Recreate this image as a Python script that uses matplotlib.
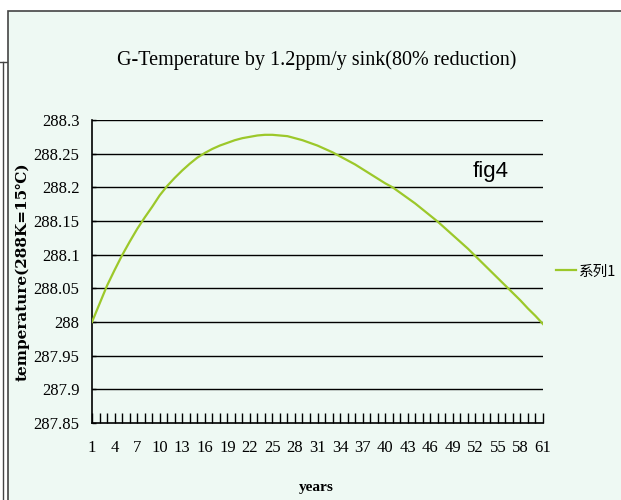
import matplotlib
matplotlib.use("Agg")
import matplotlib.pyplot as plt
from matplotlib.patches import Rectangle
from matplotlib.lines import Line2D

years = list(range(1, 62))
temperature = [
    288.000, 288.027, 288.054, 288.077, 288.099, 288.119, 288.138, 288.155,
    288.171, 288.188, 288.202, 288.214, 288.225, 288.235, 288.244, 288.251,
    288.257, 288.262, 288.266, 288.270, 288.273, 288.275, 288.277, 288.278,
    288.278, 288.277, 288.276, 288.273, 288.270, 288.266, 288.262, 288.257,
    288.252, 288.246, 288.240, 288.234, 288.227, 288.220, 288.213, 288.206,
    288.200, 288.192, 288.184, 288.176, 288.167, 288.158, 288.149, 288.139,
    288.129, 288.119, 288.109, 288.098, 288.087, 288.076, 288.065, 288.054,
    288.043, 288.032, 288.020, 288.009, 287.997,
]
y_ticks = [287.85, 287.9, 287.95, 288, 288.05, 288.1, 288.15, 288.2, 288.25, 288.3]
x_labels = list(range(1, 62, 3))

bg = "#eef9f3"
line_col = "#9cc82a"
serif = dict(family="Liberation Serif")

fig = plt.figure(figsize=(6.21, 5.0), dpi=100, facecolor="white")

# chart frame
W, H = 621, 500
fig.patches.append(Rectangle((8 / W, -0.01), 1.0, 1 - 11 / H + 0.01, transform=fig.transFigure,
                             facecolor=bg, edgecolor="#444444", lw=1.2, zorder=-5))
fig.lines.append(Line2D([3 / W, 3 / W], [0, 1 - 62 / H], transform=fig.transFigure,
                        color="#444444", lw=1, zorder=-5))
fig.lines.append(Line2D([0, 8 / W], [1 - 62 / H, 1 - 62 / H], transform=fig.transFigure,
                        color="#444444", lw=1, zorder=-5))

ax = fig.add_axes([92 / W, 1 - 423 / H, (543 - 92) / W, (423 - 120) / H])
ax.set_facecolor(bg)
ax.plot(years, temperature, color=line_col, lw=1.6, label="系列1", zorder=3)

ax.set_xlim(1, 61)
ax.set_ylim(287.85, 288.3)
ax.set_yticks(y_ticks)
ax.set_yticklabels([f"{v:g}" for v in y_ticks], **serif, fontsize=12)
ax.set_xticks(years)
ax.set_xticklabels([str(y) if y in x_labels else "" for y in years], **serif, fontsize=12)
ax.tick_params(axis="x", direction="in", length=7, width=1, pad=12)
ax.tick_params(axis="y", direction="in", length=3, width=1, pad=9)
for y in y_ticks[1:]:
    ax.axhline(y, color="black", lw=1, zorder=1)
for s in ["top", "right"]:
    ax.spines[s].set_visible(False)
ax.spines["left"].set_linewidth(1.2)
ax.spines["bottom"].set_linewidth(1.2)

fig.text(317 / W, 1 - 60 / H, "G-Temperature by 1.2ppm/y sink(80% reduction)",
         ha="center", va="center", fontsize=14.5, **serif)
fig.text(316 / W, 1 - 487 / H, "years", ha="center", va="center", fontsize=11,
         fontweight="bold", **serif)
fig.text(22 / W, 1 - 272 / H, "temperature(288K=15℃)", ha="center", va="center",
         rotation=90, fontsize=11, fontweight="bold",
         family=["DejaVu Serif", "Noto Sans CJK SC"])
ax.text(54, 288.223, "fig4", ha="center", va="center", fontsize=16, family="Liberation Sans")

leg = ax.legend(loc="center left", bbox_to_anchor=(1.012, 0.5), frameon=False,
                handlelength=1.4, handletextpad=0.2, borderaxespad=0.1,
                prop={"family": ["Noto Sans CJK SC", "DejaVu Sans"], "size": 10.5})

fig.savefig("out.png", dpi=100, facecolor="white")
